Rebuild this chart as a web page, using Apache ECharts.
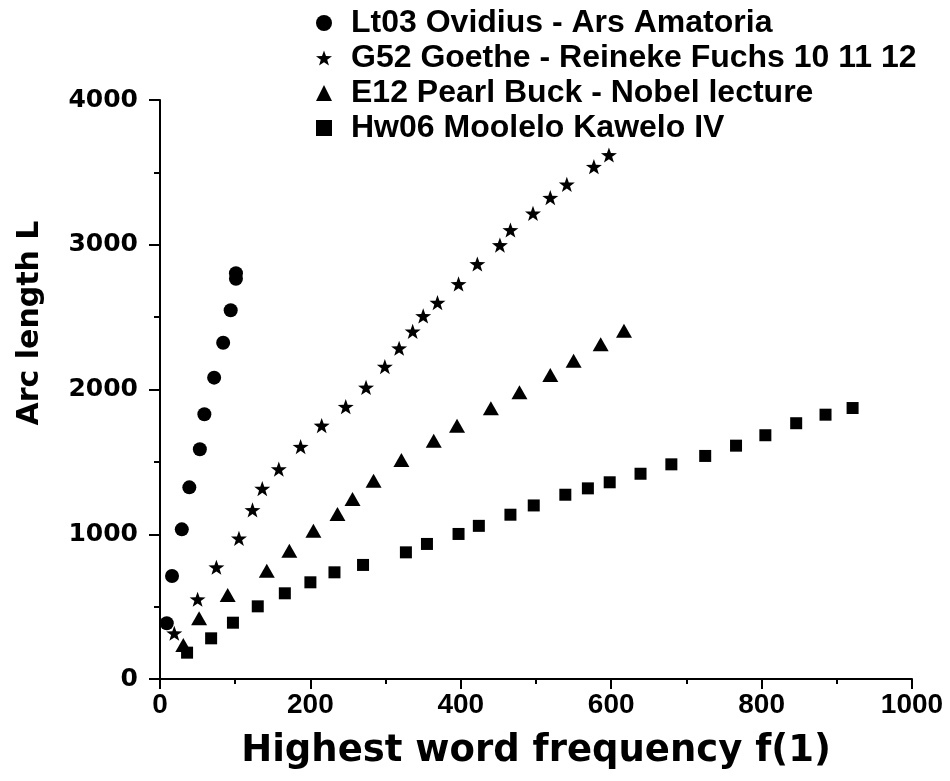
<!DOCTYPE html>
<html>
<head>
<meta charset="utf-8">
<script src="https://cdn.jsdelivr.net/npm/echarts@6/dist/echarts.min.js"></script>
<style>
html,body{margin:0;padding:0;background:#fff;}
#chart{width:950px;height:781px;}
</style>
</head>
<body>
<div id="chart"></div>
<script>
var seriesNames = ['Lt03 Ovidius - Ars Amatoria', 'G52 Goethe - Reineke Fuchs 10 11 12', 'E12 Pearl Buck - Nobel lecture', 'Hw06 Moolelo Kawelo IV'];

var lt03X = [9, 16, 29, 39, 53, 59, 72, 84, 94, 101, 101];
var lt03Y = [385, 712, 1034, 1324, 1587, 1829, 2082, 2323, 2547, 2765, 2803];

var g52X = [19, 50, 75, 105, 123, 136, 158, 187, 215, 247, 274, 299, 318, 336, 350, 369, 397, 422, 452, 466, 496, 519, 541, 577, 597];
var g52Y = [316, 551, 772, 972, 1168, 1315, 1450, 1605, 1751, 1881, 2014, 2158, 2285, 2402, 2508, 2600, 2729, 2867, 2998, 3102, 3217, 3325, 3417, 3539, 3620];

var e12X = [31, 52, 90, 142, 172, 204, 236, 256, 284, 321, 364, 395, 440, 478, 519, 550, 586, 617];
var e12Y = [235, 419, 580, 748, 886, 1025, 1140, 1244, 1370, 1513, 1646, 1750, 1870, 1981, 2100, 2199, 2312, 2406];

var hw06X = [36, 68, 97, 130, 166, 200, 232, 270, 327, 355, 397, 424, 466, 497, 539, 569, 598, 639, 680, 725, 766, 805, 846, 885, 921];
var hw06Y = [182, 281, 389, 502, 592, 668, 737, 788, 875, 933, 1002, 1058, 1135, 1199, 1273, 1317, 1359, 1418, 1483, 1541, 1612, 1684, 1767, 1826, 1872];

var xTicks = [0, 200, 400, 600, 800, 1000];
var yTicks = [0, 1000, 2000, 3000, 4000];

function pairs(xs, ys) { return xs.map(function (x, i) { return [x, ys[i]]; }); }

var starPath = 'path://M0,-10L2.35,-3.24L9.51,-3.09L3.8,1.24L5.88,8.09L0,4L-5.88,8.09L-3.8,1.24L-9.51,-3.09L-2.35,-3.24Z';

var chart = echarts.init(document.getElementById('chart'), null, {renderer: 'canvas'});
var black = '#000';
var option = {
  backgroundColor: '#fff',
  animation: false,
  grid: {left: 160, right: 38, top: 100, bottom: 102, containLabel: false},
  legend: {
    orient: 'vertical',
    left: 311,
    top: 2,
    itemWidth: 16,
    itemHeight: 16,
    itemGap: 3,
    symbolKeepAspect: true,
    selectedMode: false,
    itemStyle: {opacity: 1, color: black},
    textStyle: {fontFamily: 'Liberation Sans', fontWeight: 'bold', fontSize: 32, color: black, padding: [0, 0, 0, 14]},
    data: [
      {name: seriesNames[0], icon: 'circle'},
      {name: seriesNames[1], icon: starPath},
      {name: seriesNames[2], icon: 'triangle'},
      {name: seriesNames[3], icon: 'rect'}
    ]
  },
  xAxis: {
    type: 'value', min: xTicks[0], max: xTicks[xTicks.length - 1], interval: 200,
    name: 'Highest word frequency f(1)', nameLocation: 'middle', nameGap: 54,
    nameTextStyle: {fontFamily: 'DejaVu Sans', fontWeight: 'bold', fontSize: 37, color: black},
    axisLine: {show: true, onZero: false, lineStyle: {color: black, width: 2}},
    axisTick: {show: true, inside: false, length: 10, lineStyle: {color: black, width: 2}},
    minorTick: {show: true, splitNumber: 2, length: 5, lineStyle: {color: black, width: 2}},
    splitLine: {show: false},
    axisLabel: {margin: 12, fontFamily: 'Liberation Sans', fontWeight: 'bold', fontSize: 28, color: black,
      formatter: function (v) { return String(v); }}
  },
  yAxis: {
    type: 'value', min: yTicks[0], max: yTicks[yTicks.length - 1], interval: 1000,
    axisLine: {show: true, onZero: false, lineStyle: {color: black, width: 2}},
    axisTick: {show: true, inside: false, length: 11, lineStyle: {color: black, width: 2}},
    minorTick: {show: true, splitNumber: 2, length: 6, lineStyle: {color: black, width: 2}},
    splitLine: {show: false},
    axisLabel: {margin: 22, fontFamily: 'DejaVu Sans', fontWeight: 'bold', fontSize: 25, color: black,
      formatter: function (v) { return String(v); }}
  },
  graphic: [{
    type: 'text', x: 30, y: 323, rotation: Math.PI / 2,
    style: {text: 'Arc length L', fill: black, font: 'bold 30px "DejaVu Sans"', textAlign: 'center', textVerticalAlign: 'middle'}
  }],
  series: [
    {name: seriesNames[0], type: 'scatter', symbol: 'circle', symbolSize: 14, itemStyle: {color: black, opacity: 1}, data: pairs(lt03X, lt03Y)},
    {name: seriesNames[1], type: 'scatter', symbol: starPath, symbolKeepAspect: true, symbolSize: 16, itemStyle: {color: black, opacity: 1}, data: pairs(g52X, g52Y)},
    {name: seriesNames[2], type: 'scatter', symbol: 'triangle', symbolSize: [16, 14], itemStyle: {color: black, opacity: 1}, data: pairs(e12X, e12Y)},
    {name: seriesNames[3], type: 'scatter', symbol: 'rect', symbolSize: 12, itemStyle: {color: black, opacity: 1}, data: pairs(hw06X, hw06Y)}
  ]
};
chart.setOption(option);
</script>
</body>
</html>
